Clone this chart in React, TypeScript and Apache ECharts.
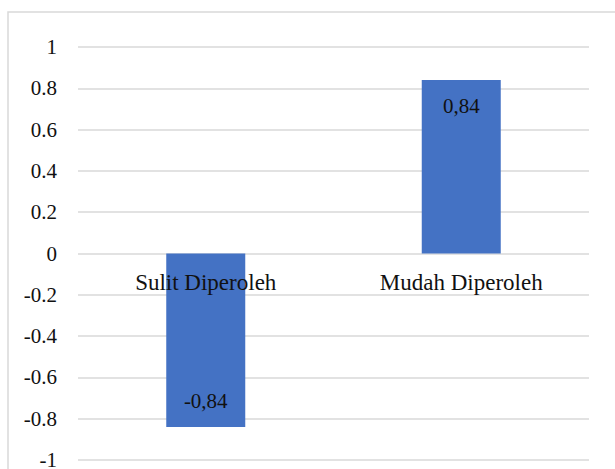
import React, { useEffect, useRef } from "react";
import * as echarts from "echarts";

const categories = ["Sulit Diperoleh", "Mudah Diperoleh"];
const values = [-0.84, 0.84];
const yMin = -1;
const yMax = 1;
const yInterval = 0.2;

const CHART_H = 469;
const GRID_TOP = 47;
const GRID_BOTTOM = 9;

export default function App() {
  const ref = useRef<HTMLDivElement>(null);
  useEffect(() => {
    if (!ref.current) return;
    const chart = echarts.init(ref.current, null, { renderer: "svg" });
    const font = "'Liberation Serif', 'Times New Roman', serif";
    // place the category axis at the zero line of the value axis
    const plotH = CHART_H - GRID_TOP - GRID_BOTTOM;
    const zeroFromBottom = (plotH * (0 - yMin)) / (yMax - yMin);
    chart.setOption({
      animation: false,
      backgroundColor: "#ffffff",
      graphic: [
        {
          type: "rect",
          shape: { x: 8, y: 12, width: 700, height: 600 },
          style: { fill: "none", stroke: "#d9d9d9", lineWidth: 1.5 },
          silent: true,
        },
      ],
      grid: {
        left: 78,
        right: 26,
        top: GRID_TOP,
        bottom: GRID_BOTTOM,
        containLabel: false,
        outerBoundsMode: "none",
      },
      xAxis: {
        type: "category",
        data: categories,
        z: 5,
        offset: -zeroFromBottom,
        axisLine: { show: false, onZero: false },
        axisTick: { show: false },
        axisLabel: {
          color: "#111111",
          fontFamily: font,
          fontSize: 23,
          margin: 17,
        },
        splitLine: { show: false },
      },
      yAxis: {
        type: "value",
        min: yMin,
        max: yMax,
        interval: yInterval,
        axisLine: { show: false },
        axisTick: { show: false },
        axisLabel: {
          color: "#111111",
          fontFamily: font,
          fontSize: 21,
          margin: 21,
          formatter: (v: number) => String(Math.round(v * 10) / 10),
        },
        splitLine: { lineStyle: { color: "#d9d9d9", width: 1.5 } },
      },
      series: [
        {
          type: "bar",
          barWidth: 79,
          itemStyle: { color: "#4472c4" },
          data: values.map((v) => ({
            value: v,
            label: {
              show: true,
              position: v < 0 ? "insideBottom" : "insideTop",
              distance: 15,
              color: "#111111",
              fontFamily: font,
              fontSize: 21,
              formatter: () => String(v).replace(".", ","),
            },
          })),
        },
      ],
    });
    return () => chart.dispose();
  }, []);
  return (
    <div
      ref={ref}
      style={{ position: "fixed", left: 0, top: 0, width: 615, height: CHART_H }}
    />
  );
}
